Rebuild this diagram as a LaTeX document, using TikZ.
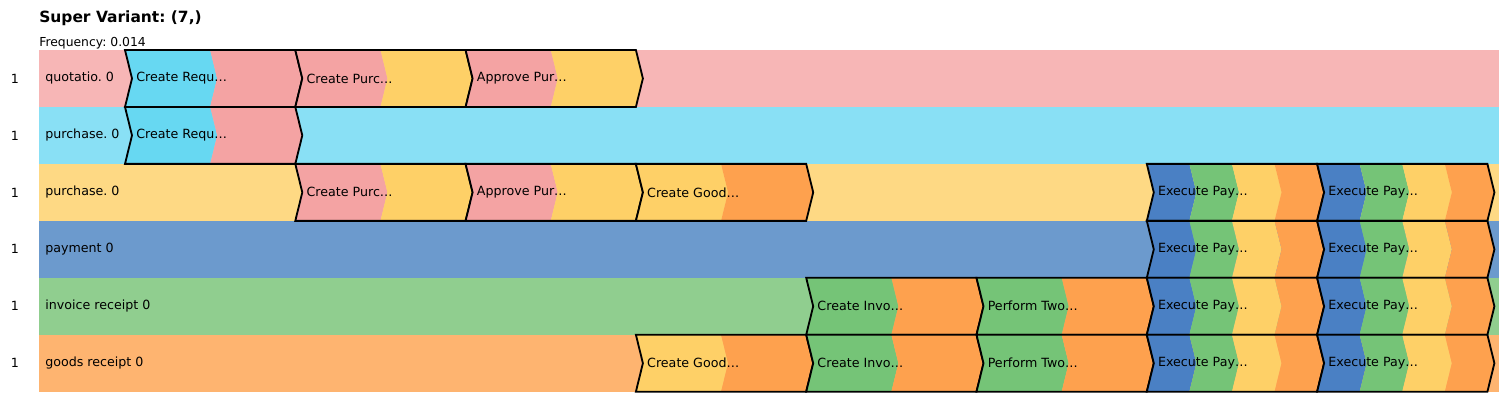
\documentclass[tikz,border=0pt]{standalone}
\usepackage{fontspec}
\setmainfont{DejaVu Sans}
\usepackage{tikz}
\frenchspacing

\definecolor{cyanC}{HTML}{67D8F2}
\definecolor{pinkC}{HTML}{F4A3A3}
\definecolor{yellowC}{HTML}{FED067}
\definecolor{orangeC}{HTML}{FEA14E}
\definecolor{blueC}{HTML}{4A80C4}
\definecolor{greenC}{HTML}{75C477}
\definecolor{pinkBg}{HTML}{F7B6B6}
\definecolor{cyanBg}{HTML}{89E0F5}
\definecolor{yellowBg}{HTML}{FED984}
\definecolor{blueBg}{HTML}{6C9ACD}
\definecolor{greenBg}{HTML}{90CE8F}
\definecolor{orangeBg}{HTML}{FEB470}

\tikzset{
  chev/.style={draw=black, line width=1.3pt, line join=miter},
  act/.style={anchor=west, inner sep=0pt, font=\fontsize{9}{10}\selectfont},
  lanelabel/.style={anchor=west, inner sep=0pt, font=\fontsize{9}{10}\selectfont},
  lanecount/.style={inner sep=0pt, font=\fontsize{9}{10}\selectfont},
}

% row, slot, number of colours, colours, label
\newcommand{\chevron}[5]{%
  \pgfmathsetmacro{\chx}{125+170.3*#2}
  \pgfmathsetmacro{\chy}{50+56.95*#1}
  \pgfmathsetmacro{\chw}{170.3/#3}
  \foreach \c [count=\k from 0] in {#4}{
    \fill[\c] ({\chx+\k*\chw},\chy) -- ++(\chw,0) -- ++(7,28.475) -- ++(-7,28.475)
      -- ++(-\chw,0) -- ++(7,-28.475) -- cycle;
  }
  \draw[chev] (\chx,\chy) -- ++(170.3,0) -- ++(7,28.475) -- ++(-7,28.475)
    -- ++(-170.3,0) -- ++(7,-28.475) -- cycle;
  \node[act] (a-#1-#2) at ({\chx+11},{\chy+28.475}) {#5};
}

\begin{document}
\begin{tikzpicture}[x=0.025cm, y=-0.025cm]
  \useasboundingbox (0,0) rectangle (1512,400);

  \node[anchor=base west, inner sep=0pt, font=\fontsize{11}{12}\selectfont\bfseries]
    (title) at (39,23) {Super Variant: (7,)};
  \node[anchor=base west, inner sep=0pt, font=\fontsize{8.8}{10}\selectfont]
    (freq) at (39,46.5) {Frequency: 0.014};

  \foreach \bg/\name [count=\r from 0] in {pinkBg/quotatio. 0, cyanBg/purchase. 0,
      yellowBg/purchase. 0, blueBg/payment 0, greenBg/invoice receipt 0, orangeBg/goods receipt 0}{
    \fill[\bg] (39,{50+56.95*\r}) rectangle (1499,{50+56.95*(\r+1)});
    \node[lanelabel] (lane-\r) at (45,{78.5+56.95*\r}) {\name};
    \node[lanecount] (cnt-\r) at (15,{78.5+56.95*\r}) {1};
  }

  \chevron{0}{0}{2}{cyanC,pinkC}{Create Requ…}
  \chevron{0}{1}{2}{pinkC,yellowC}{Create Purc…}
  \chevron{0}{2}{2}{pinkC,yellowC}{Approve Pur…}

  \chevron{1}{0}{2}{cyanC,pinkC}{Create Requ…}

  \chevron{2}{1}{2}{pinkC,yellowC}{Create Purc…}
  \chevron{2}{2}{2}{pinkC,yellowC}{Approve Pur…}
  \chevron{2}{3}{2}{yellowC,orangeC}{Create Good…}

  \chevron{4}{4}{2}{greenC,orangeC}{Create Invo…}
  \chevron{4}{5}{2}{greenC,orangeC}{Perform Two…}

  \chevron{5}{3}{2}{yellowC,orangeC}{Create Good…}
  \chevron{5}{4}{2}{greenC,orangeC}{Create Invo…}
  \chevron{5}{5}{2}{greenC,orangeC}{Perform Two…}

  \foreach \r in {2,...,5}{
    \foreach \s in {6,7}{
      \chevron{\r}{\s}{4}{blueC,greenC,yellowC,orangeC}{Execute Pay…}
    }
  }
\end{tikzpicture}
\end{document}
